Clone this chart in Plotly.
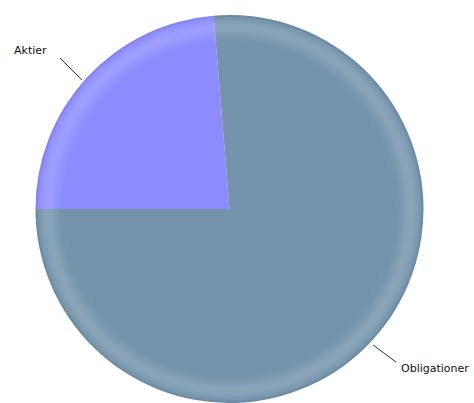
import plotly.graph_objects as go

labels = ["Aktier", "Obligationer"]
values = [23.7, 76.3]
colors = ["#8c8cff", "#7393ab"]

W, H = 474, 403
cx, cy = 229.5, 209.0   # pixel centre (from top)
R = 194.0

def dom(r):
    return dict(x=[(cx - r) / W, (cx + r) / W],
                y=[(H - cy - r) / H, (H - cy + r) / H])

fig = go.Figure()
common = dict(labels=labels, values=values, sort=False, direction="clockwise",
              rotation=270, textinfo="none", hoverinfo="skip", showlegend=False)

fig.add_trace(go.Pie(domain=dom(R), marker=dict(colors=colors, line=dict(width=0)), **common))

# bevel rim: thin rings (outer frac, inner frac, colour)
rim_steps = [
    (1.000, 0.990, "rgba(50,70,100,0.10)"),
    (0.990, 0.980, "rgba(255,255,255,0.03)"),
    (0.980, 0.970, "rgba(255,255,255,0.07)"),
    (0.970, 0.960, "rgba(255,255,255,0.11)"),
    (0.960, 0.950, "rgba(255,255,255,0.14)"),
    (0.950, 0.940, "rgba(255,255,255,0.16)"),
    (0.940, 0.930, "rgba(255,255,255,0.17)"),
    (0.930, 0.920, "rgba(255,255,255,0.16)"),
    (0.920, 0.910, "rgba(255,255,255,0.14)"),
    (0.910, 0.900, "rgba(255,255,255,0.11)"),
    (0.900, 0.890, "rgba(255,255,255,0.08)"),
    (0.890, 0.880, "rgba(255,255,255,0.05)"),
    (0.880, 0.870, "rgba(255,255,255,0.03)"),
    (0.870, 0.860, "rgba(255,255,255,0.015)"),
]
for o, i, c in rim_steps:
    fig.add_trace(go.Pie(domain=dom(R * o), hole=i / o,
                         marker=dict(colors=[c, c], line=dict(width=0)), **common))

# leader lines and labels
lines = [((60, 58), (82, 80)), ((373, 345), (396, 362))]
for (x0, y0), (x1, y1) in lines:
    fig.add_shape(type="line", xref="paper", yref="paper",
                  x0=x0 / W, y0=1 - y0 / H, x1=x1 / W, y1=1 - y1 / H,
                  line=dict(color="#333333", width=1))

fig.add_annotation(text=labels[0], xref="paper", yref="paper", x=12 / W, y=1 - 51 / H,
                   xanchor="left", yanchor="middle", showarrow=False,
                   font=dict(family="DejaVu Sans", size=11, color="#111111"))
fig.add_annotation(text=labels[1], xref="paper", yref="paper", x=399 / W, y=1 - 368 / H,
                   xanchor="left", yanchor="middle", showarrow=False,
                   font=dict(family="DejaVu Sans", size=11, color="#111111"))

fig.update_layout(width=W, height=H, autosize=False,
                  margin=dict(l=0, r=0, t=0, b=0),
                  paper_bgcolor="white", plot_bgcolor="white")

fig.write_html("out.html")
